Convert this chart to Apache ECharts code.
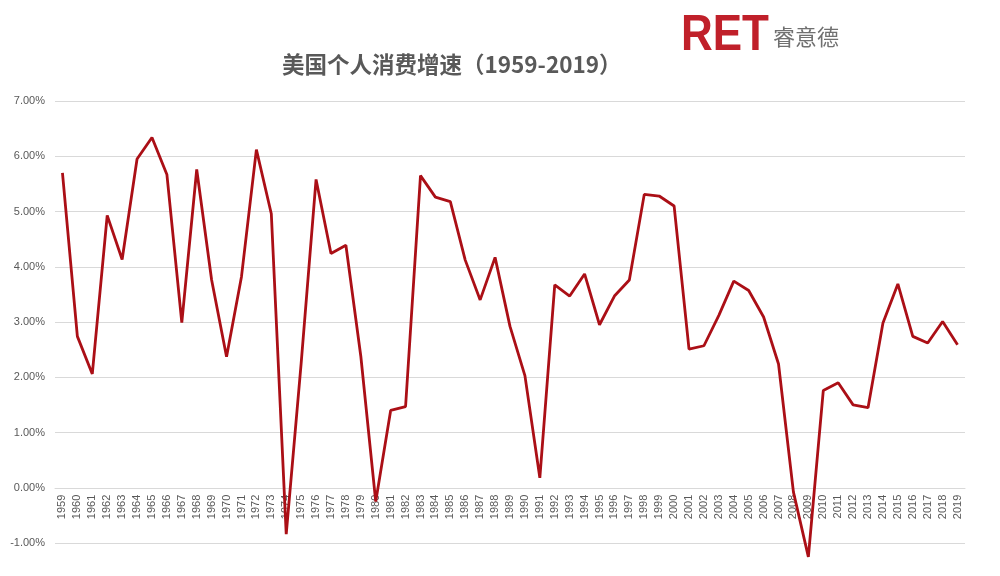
<!DOCTYPE html>
<html>
<head>
<meta charset="utf-8">
<script src="https://cdn.jsdelivr.net/npm/echarts@6/dist/echarts.min.js"></script>
<style>
html,body{margin:0;padding:0;background:#fff;}
#chart{width:1000px;height:576px;}
</style>
</head>
<body>
<div id="chart"></div>
<script>
var years = [];
for (var y = 1959; y <= 2019; y++) years.push(String(y));

var growth = [
  5.70, 2.74, 2.06, 4.93, 4.13, 5.95, 6.34, 5.67, 2.99, 5.76,
  3.76, 2.37, 3.82, 6.12, 4.96, -0.84, 2.25, 5.58, 4.24, 4.39,
  2.38, -0.25, 1.40, 1.47, 5.65, 5.26, 5.18, 4.12, 3.40, 4.17,
  2.92, 2.03, 0.18, 3.67, 3.47, 3.87, 2.95, 3.47, 3.76, 5.31,
  5.28, 5.10, 2.51, 2.57, 3.12, 3.74, 3.57, 3.09, 2.24, -0.08,
  -1.25, 1.76, 1.90, 1.50, 1.45, 2.98, 3.69, 2.74, 2.62, 3.01,
  2.59
];

var titleText = '美国个人消费增速（1959-2019）';
var brandMark = 'RET';
var brandName = '睿意德';

var yMin = -1, yMax = 7;
var gridTop = 101, gridBottom = 33, chartH = 576;
var gridH = chartH - gridTop - gridBottom;
var zeroOffset = -gridH * (0 - yMin) / (yMax - yMin);

var chart = echarts.init(document.getElementById('chart'));
chart.setOption({
  backgroundColor: '#ffffff',
  animation: false,
  graphic: [
    {
      type: 'text', left: 282, top: 53,
      style: { text: titleText, fill: '#595959', font: 'bold 22.5px "Noto Sans CJK SC", sans-serif' }
    },
    {
      type: 'text', x: 681, y: 11, scaleX: 0.88,
      style: { text: brandMark, fill: '#c0202a', font: 'bold 50px "Liberation Sans", Arial, sans-serif' }
    },
    {
      type: 'text', left: 773, top: 26,
      style: { text: brandName, fill: '#707070', font: '22px "Noto Sans CJK SC", sans-serif' }
    }
  ],
  grid: { left: 55, right: 35, top: gridTop, bottom: gridBottom },
  xAxis: {
    type: 'category',
    data: years,
    boundaryGap: true,
    offset: zeroOffset,
    axisTick: { show: false },
    axisLine: { show: true, onZero: false, lineStyle: { color: '#d9d9d9', width: 1 } },
    axisLabel: {
      interval: 0, rotate: 90, color: '#595959',
      fontSize: 11, fontFamily: '"Liberation Sans", Arial, sans-serif', margin: 7
    },
    splitLine: { show: false }
  },
  yAxis: {
    type: 'value',
    min: yMin, max: yMax, interval: 1,
    axisLine: { show: false },
    axisTick: { show: false },
    axisLabel: {
      color: '#595959', fontSize: 11, fontFamily: '"Liberation Sans", Arial, sans-serif', margin: 10,
      formatter: function (v) { return v.toFixed(2) + '%'; }
    },
    splitLine: { lineStyle: { color: '#d9d9d9', width: 1 } }
  },
  series: [{
    type: 'line',
    data: growth,
    symbol: 'none',
    clip: false,
    lineStyle: { color: '#ab0f16', width: 2.8 },
    itemStyle: { color: '#ab0f16' },
    z: 5
  }]
});
</script>
</body>
</html>
